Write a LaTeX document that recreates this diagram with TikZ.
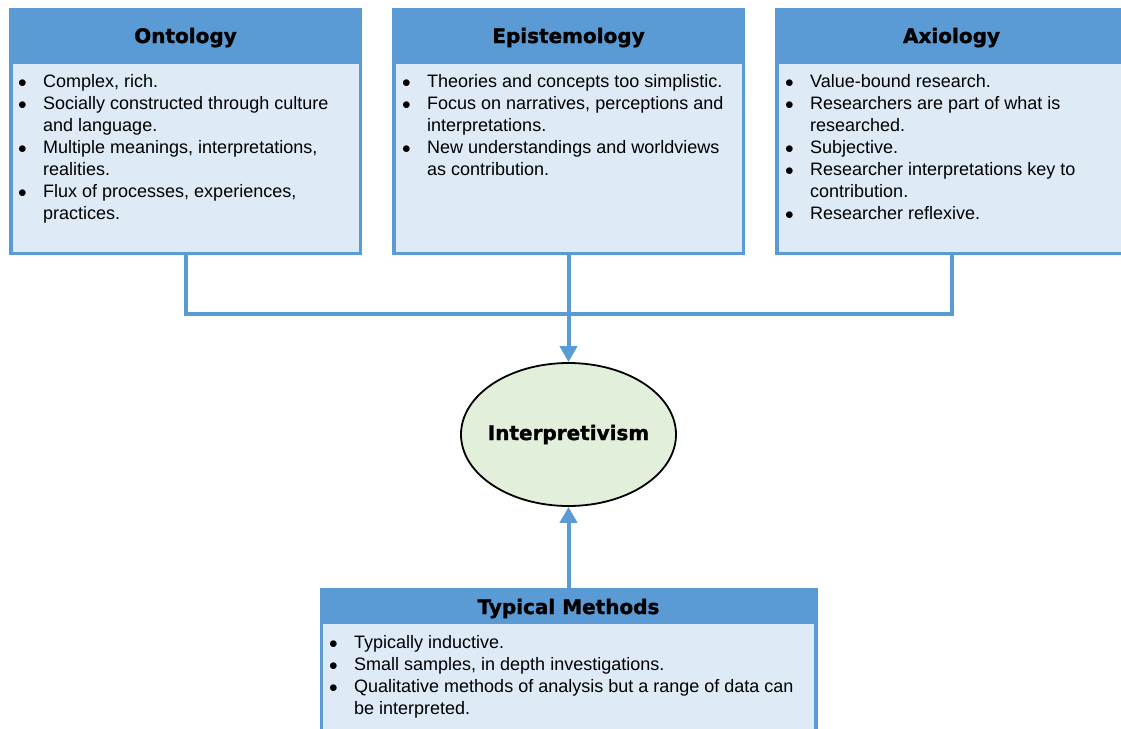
\documentclass[tikz,border=0pt]{standalone}
\usepackage{fontspec}
\setmainfont{Liberation Sans}
\newfontfamily\headfont{DejaVu Sans}[BoldFeatures={FakeBold=1.3}]
\usetikzlibrary{shapes.geometric,arrows.meta}

\definecolor{hdrblue}{HTML}{5B9BD5}
\definecolor{paleblue}{HTML}{DEEAF6}
\definecolor{palegreen}{HTML}{E2EFDA}

% one bulleted entry with a hanging indent
\newcommand\bitem[1]{\par\hangindent=26pt\hangafter=1\noindent\makebox[26pt][l]{\hspace{1pt}$\bullet$}#1}
\newcommand\headsize{\headfont\bfseries\fontsize{20}{24}\selectfont}

\tikzset{
  panel/.style={rectangle, draw=hdrblue, line width=3.5pt, fill=paleblue, inner sep=0pt},
  heading/.style={font=\headsize, text=black, inner sep=0pt, anchor=base},
  bodytext/.style={anchor=base west, inner sep=0pt, font=\fontsize{18}{22}\selectfont},
  link/.style={draw=hdrblue, line width=4pt},
  linkarrow/.style={link, -{Triangle[length=16pt,width=17pt]}},
  core/.style={ellipse, draw=black, line width=1.8pt, fill=palegreen,
    minimum width=215pt, minimum height=143pt, inner sep=0pt}
}

\begin{document}
\begin{tikzpicture}[x=1pt,y=1pt]
\useasboundingbox (0,0) rectangle (1121,-728);
\clip (0,0) rectangle (1121,-728);

% three top panels
\node[panel, minimum width=349.5pt, minimum height=243.5pt] (onto) at (185.5,-131.5) {};
\node[panel, minimum width=349.5pt, minimum height=243.5pt] (epis) at (568.5,-131.5) {};
\node[panel, minimum width=349.5pt, minimum height=243.5pt] (axio) at (951.5,-131.5) {};
\fill[hdrblue] (onto.north west) rectangle ([yshift=-56.25pt]onto.north east);
\fill[hdrblue] (epis.north west) rectangle ([yshift=-56.25pt]epis.north east);
\fill[hdrblue] (axio.north west) rectangle ([yshift=-56.25pt]axio.north east);

\node[heading] (ontohead) at (185.5,-43) {Ontology};
\node[heading] (epishead) at (568.5,-43) {Epistemology};
\node[heading] (axiohead) at (951.5,-43) {Axiology};

\node[bodytext] (ontotext) at (17,-87) {\parbox[t]{340pt}{%
  \bitem{Complex, rich.}
  \bitem{Socially constructed through culture\\and language.}
  \bitem{Multiple meanings, interpretations,\\realities.}
  \bitem{Flux of processes, experiences,\\practices.}}};
\node[bodytext] (epistext) at (401,-87) {\parbox[t]{340pt}{%
  \bitem{Theories and concepts too simplistic.}
  \bitem{Focus on narratives, perceptions and\\interpretations.}
  \bitem{New understandings and worldviews\\as contribution.}}};
\node[bodytext] (axiotext) at (784,-87) {\parbox[t]{340pt}{%
  \bitem{Value-bound research.}
  \bitem{Researchers are part of what is\\researched.}
  \bitem{Subjective.}
  \bitem{Researcher interpretations key to\\contribution.}
  \bitem{Researcher reflexive.}}};

% central paradigm
\node[core] (core) at (568.5,-434.5) {};
\node[font=\headsize, inner sep=0pt] (corelabel) at (core.center) {Interpretivism};

% methods panel
\node[panel, minimum width=494.5pt, minimum height=188.5pt] (meth) at (568.5,-684) {};
\fill[hdrblue] (meth.north west) rectangle ([yshift=-36.25pt]meth.north east);
\node[heading] (methhead) at (568.5,-614) {Typical Methods};
\node[bodytext] (methtext) at (328,-648) {\parbox[t]{480pt}{%
  \bitem{Typically inductive.}
  \bitem{Small samples, in depth investigations.}
  \bitem{Qualitative methods of analysis but a range of data can\\be interpreted.}}};

% connectors
\coordinate (bus) at (568.5,-314);
\draw[link] (onto.south) |- (bus) -| (axio.south);
\draw[linkarrow] (epis.south) -- (core.north);
\draw[linkarrow] (meth.north) -- (core.south);
\end{tikzpicture}
\end{document}
